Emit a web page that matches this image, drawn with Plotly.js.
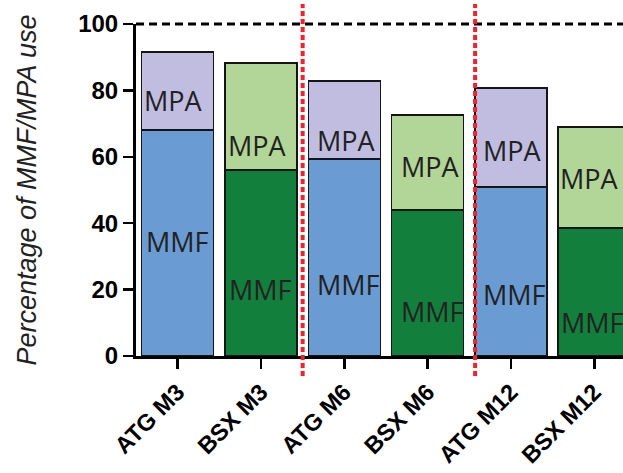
<!DOCTYPE html>
<html>
<head>
<meta charset="utf-8">
<script src="https://cdn.plot.ly/plotly-3.0.1.min.js"></script>
<style>html,body{margin:0;padding:0;background:#fff;}#chart{width:623px;height:473px;}</style>
</head>
<body>
<div id="chart"></div>
<script>
var categories = ['ATG M3', 'BSX M3', 'ATG M6', 'BSX M6', 'ATG M12', 'BSX M12'];
var mmfValues = [68, 56, 59.3, 44, 50.9, 38.6];
var mpaValues = [23.6, 32.3, 23.5, 28.6, 29.8, 30.4];
var mmfColors = ['#6a9bd2', '#137f3c', '#6a9bd2', '#137f3c', '#6a9bd2', '#137f3c'];
var mpaColors = ['#c0bde1', '#b2d698', '#c0bde1', '#b2d698', '#c0bde1', '#b2d698'];
// label placements (value position inside each bar, pixel nudge)
var mmfLabelY = [34.6, 19.9, 21.4, 13.3, 18.4, 10];
var mpaLabelY = [77, 63.5, 65, 57, 62, 53.6];
var mmfLabelShift = [0, 0, 4, 5, 4, -2];
var mpaLabelShift = [-4, -3, 2, 3, 2, -5];

var traces = [
  {type: 'bar', name: 'MMF', x: categories, y: mmfValues,
   marker: {color: mmfColors, line: {color: '#151515', width: 1.5}}, hoverinfo: 'skip'},
  {type: 'bar', name: 'MPA', x: categories, y: mpaValues,
   marker: {color: mpaColors, line: {color: '#151515', width: 1.5}}, hoverinfo: 'skip'}
];

var labelFont = {family: 'Open Sans, sans-serif', size: 27, color: '#222222'};
var annotations = [];
categories.forEach(function (c, i) {
  annotations.push({x: c, y: mmfLabelY[i], xref: 'x', yref: 'y', text: 'MMF', showarrow: false,
    xshift: mmfLabelShift[i], font: labelFont});
  annotations.push({x: c, y: mpaLabelY[i], xref: 'x', yref: 'y', text: 'MPA', showarrow: false,
    xshift: mpaLabelShift[i], font: labelFont});
});

var layout = {
  width: 623, height: 473,
  margin: {l: 136, r: 0, t: 24, b: 117, pad: 0},
  paper_bgcolor: '#ffffff', plot_bgcolor: '#ffffff',
  barmode: 'stack', bargap: 0.135,
  showlegend: false,
  xaxis: {
    type: 'category', range: [-0.5, 5.345],
    showline: true, linecolor: '#000', linewidth: 3,
    ticks: 'outside', ticklen: 10, tickwidth: 2.5, tickcolor: '#000',
    tickangle: -45,
    tickfont: {family: 'Arial, Liberation Sans, sans-serif', size: 23.5, color: '#000', weight: 'bold'},
    showgrid: false, zeroline: false, fixedrange: true
  },
  yaxis: {
    range: [0, 100], dtick: 20, tick0: 0,
    showline: true, linecolor: '#000', linewidth: 3,
    ticks: 'outside', ticklen: 10, tickwidth: 2.5, tickcolor: '#000',
    tickfont: {family: 'Arial, Liberation Sans, sans-serif', size: 24, color: '#000', weight: 'bold'},
    showgrid: false, zeroline: false, fixedrange: true,
    title: {text: 'Percentage of MMF/MPA use', standoff: 34,
      font: {family: 'Arial, Liberation Sans, sans-serif', size: 27, color: '#222', style: 'italic'}}
  },
  shapes: [
    {type: 'line', xref: 'paper', yref: 'paper', x0: 0, x1: 1, y0: 1, y1: 1,
     line: {color: '#000', width: 3, dash: '8px,5px'}},
    {type: 'line', xref: 'x', yref: 'paper', x0: 1.5, x1: 1.5, y0: -0.06, y1: 1.06,
     line: {color: '#f0222a', width: 4, dash: '5px,3px'}},
    {type: 'line', xref: 'x', yref: 'paper', x0: 3.57, x1: 3.57, y0: -0.06, y1: 1.06,
     line: {color: '#f0222a', width: 4, dash: '5px,3px'}}
  ],
  annotations: annotations
};

Plotly.newPlot('chart', traces, layout, {displayModeBar: false, staticPlot: true});
</script>
</body>
</html>
